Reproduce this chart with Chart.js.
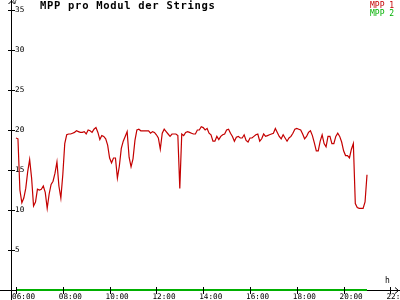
<!DOCTYPE html>
<html>
<head>
<meta charset="utf-8">
<title>MPP pro Modul der Strings</title>
<script src="https://cdn.jsdelivr.net/npm/chart.js@4"></script>
<style>
  body { margin: 0; background: #fff; }
  canvas { display: block; }
</style>
</head>
<body>
<canvas id="mpp-chart" width="400" height="300"></canvas>
<script>
// MPP 1 readings, one every 5 minutes from 06:00 to 21:00
const startHour = 6;
const stepMinutes = 5;
const mpp1Values = [
  19.0, 18.9, 12.5, 10.9, 11.5, 12.7, 14.8, 16.3, 14.0, 10.5,
  11.0, 12.6, 12.5, 12.6, 13.0, 12.2, 10.2, 12.0, 13.2, 13.6,
  14.6, 16.0, 13.0, 11.5, 14.4, 18.3, 19.4, 19.5, 19.5, 19.6,
  19.7, 19.9, 19.8, 19.7, 19.7, 19.8, 19.5, 20.0, 19.9, 19.7,
  20.1, 20.3, 19.7, 18.8, 19.3, 19.2, 18.9, 18.1, 16.5, 15.9,
  16.5, 16.5, 14.0, 15.5, 17.7, 18.6, 19.2, 19.8, 16.6, 15.4,
  16.4, 18.7, 20.0, 20.1, 19.9, 19.9, 19.9, 19.9, 19.9, 19.6,
  19.8, 19.7, 19.4, 19.0, 17.6, 19.6, 20.1, 19.8, 19.5, 19.2,
  19.5, 19.5, 19.5, 19.3, 12.7, 19.5, 19.3, 19.7, 19.8, 19.7,
  19.6, 19.5, 19.5, 20.0, 20.0, 20.4, 20.3, 20.0, 20.2, 19.6,
  19.4, 18.6, 18.6, 19.2, 18.8, 19.2, 19.4, 19.5, 20.0, 20.1,
  19.6, 19.2, 18.6, 19.1, 19.2, 19.0, 19.0, 19.4, 18.7, 18.5,
  19.0, 19.0, 19.2, 19.4, 19.5, 18.6, 18.9, 19.5, 19.2, 19.3,
  19.4, 19.5, 19.6, 20.2, 19.7, 19.2, 18.9, 19.4, 19.0, 18.6,
  19.0, 19.2, 19.6, 20.1, 20.2, 20.1, 20.0, 19.5, 18.9, 19.2,
  19.7, 19.9, 19.3, 18.4, 17.4, 17.4, 18.6, 19.4, 18.3, 17.9,
  19.2, 19.2, 18.3, 18.3, 19.2, 19.6, 19.2, 18.5, 17.4, 16.8,
  16.8, 16.5, 17.6, 18.3, 10.8, 10.3, 10.2, 10.2, 10.2, 11.0,
  14.4
];
// MPP 2 stays at zero all day
const mpp2Hours = [6, 21];
const mpp2Values = [0, 0];

const xTicks = [6, 8, 10, 12, 14, 16, 18, 20, 22];
const yTicks = [5, 10, 15, 20, 25, 30, 35];

const red = '#c40000';
const green = '#00b000';
const mono = '"DejaVu Sans Mono", "Liberation Mono", monospace';

const mpp1Points = mpp1Values.map((v, i) => ({ x: startHour + i * stepMinutes / 60, y: v }));
const mpp2Points = mpp2Values.map((v, i) => ({ x: mpp2Hours[i], y: v }));

function pad2(n) {
  return String(n).padStart(2, '0');
}

// axes, arrows, tick crosses, title and legend in the old logger style
const decorations = {
  id: 'decorations',
  beforeDatasetsDraw(chart) {
    const ctx = chart.ctx;
    const x0 = Math.round(chart.scales.x.getPixelForValue(chart.scales.x.min)) + 0.5;
    const y0 = Math.round(chart.scales.y.getPixelForValue(0)) + 0.5;
    ctx.save();
    ctx.strokeStyle = '#000';
    ctx.lineWidth = 1;
    ctx.beginPath();
    ctx.moveTo(x0, 0);
    ctx.lineTo(x0, 300);
    ctx.moveTo(0, y0);
    ctx.lineTo(400, y0);
    // arrow heads
    ctx.moveTo(x0 - 3, 4);
    ctx.lineTo(x0, 1);
    ctx.lineTo(x0 + 3, 4);
    ctx.moveTo(395, y0 - 3);
    ctx.lineTo(398.5, y0);
    ctx.lineTo(395, y0 + 3);
    ctx.stroke();

    ctx.fillStyle = '#000';
    ctx.textBaseline = 'top';
    ctx.font = '6px ' + mono;
    ctx.fillText('V', x0 + 1.5, -0.5);
    ctx.font = '8px ' + mono;
    ctx.fillText('h', 385, 277);

    ctx.font = 'bold 10.5px ' + mono;
    ctx.letterSpacing = '0.7px';
    ctx.fillText('MPP pro Modul der Strings', 40, 1.5);
    ctx.letterSpacing = '0px';

    ctx.font = '8px ' + mono;
    chart.data.datasets.forEach((ds, i) => {
      ctx.fillStyle = ds.borderColor;
      ctx.fillText(ds.label, 370, 1.5 + i * 8);
    });
    ctx.restore();
  },
  afterDatasetsDraw(chart) {
    const ctx = chart.ctx;
    const x0 = Math.round(chart.scales.x.getPixelForValue(chart.scales.x.min)) + 0.5;
    const y0 = Math.round(chart.scales.y.getPixelForValue(0)) + 0.5;
    ctx.save();
    ctx.strokeStyle = '#000';
    ctx.lineWidth = 1;
    ctx.beginPath();
    yTicks.forEach(v => {
      const py = Math.round(chart.scales.y.getPixelForValue(v)) + 0.5;
      ctx.moveTo(x0 - 3.5, py);
      ctx.lineTo(x0 + 3.5, py);
    });
    xTicks.forEach(v => {
      const px = Math.round(chart.scales.x.getPixelForValue(v)) + 0.5;
      ctx.moveTo(px, y0 - 3.5);
      ctx.lineTo(px, y0 + 3.5);
    });
    ctx.stroke();
    ctx.restore();
  }
};

const mppCtx = document.getElementById('mpp-chart').getContext('2d');

const mppChart = new Chart(mppCtx, {
  type: 'line',
  data: {
    datasets: [
      {
        label: 'MPP 1',
        data: mpp1Points,
        borderColor: red,
        borderWidth: 1.2,
        pointRadius: 0,
        tension: 0
      },
      {
        label: 'MPP 2',
        data: mpp2Points,
        borderColor: green,
        borderWidth: 2,
        pointRadius: 0,
        tension: 0,
        clip: false
      }
    ]
  },
  options: {
    responsive: false,
    animation: false,
    events: [],
    layout: { padding: 0 },
    plugins: {
      legend: { display: false },
      title: { display: false },
      tooltip: { enabled: false }
    },
    scales: {
      x: {
        type: 'linear',
        min: 6 - 5 / 23.4,
        max: 6 + 384 / 23.4,
        grid: { display: false, drawTicks: false },
        border: { display: false },
        afterBuildTicks: scale => {
          scale.ticks = xTicks.map(v => ({ value: v }));
        },
        afterFit: scale => {
          scale.height = 10;
          scale.paddingLeft = 0;
          scale.paddingRight = 0;
        },
        ticks: {
          autoSkip: false,
          maxRotation: 0,
          align: 'start',
          labelOffset: -4,
          padding: 2,
          color: '#000',
          font: { family: mono, size: 7.7 },
          callback: v => pad2(v) + ':00'
        }
      },
      y: {
        min: 0,
        max: 36.25,
        grid: { display: false, drawTicks: false },
        border: { display: false },
        afterBuildTicks: scale => {
          scale.ticks = yTicks.map(v => ({ value: v }));
        },
        afterFit: scale => {
          scale.width = 11;
          scale.paddingTop = 0;
          scale.paddingBottom = 0;
        },
        ticks: {
          mirror: true,
          padding: 4,
          color: '#000',
          font: { family: mono, size: 7.7 }
        }
      }
    }
  },
  plugins: [decorations]
});
</script>
</body>
</html>
